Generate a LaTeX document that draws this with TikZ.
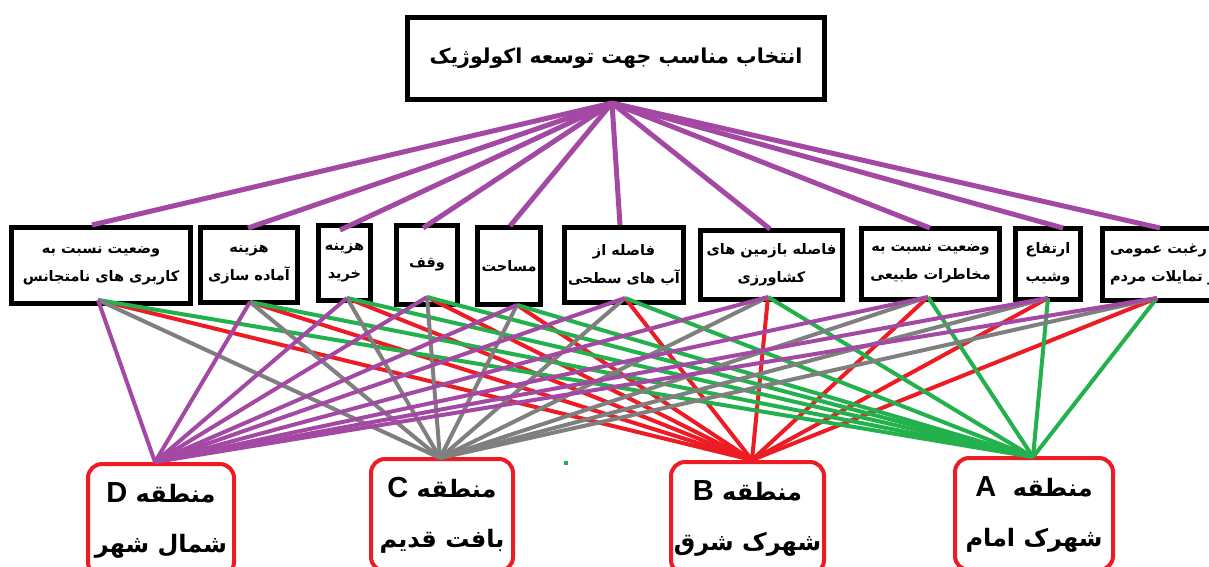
\documentclass[tikz,border=0pt]{standalone}
\usepackage{fontspec}
\TeXXeTstate=1
\newfontfamily\arabicfont[Script=Arabic]{DejaVu Sans}
\newfontfamily\latinsans{Liberation Sans}
\newcommand{\fa}[1]{{\arabicfont\bfseries\beginR #1\endR}}
\newcommand{\lt}[1]{{\latinsans\bfseries\fontsize{29}{50}\selectfont #1}}
\definecolor{ppurple}{RGB}{163,73,164}
\definecolor{pgray}{RGB}{127,127,127}
\definecolor{pred}{RGB}{237,28,36}
\definecolor{pgreen}{RGB}{34,177,76}
\tikzset{
  goalbox/.style={draw=black, line width=5pt, fill=white, inner sep=0pt, align=center,
    minimum width=417pt, minimum height=82pt, font=\fontsize{20.5}{26}\selectfont},
  crit/.style={draw=black, line width=5pt, fill=white, inner sep=0pt, align=center,
    font=\fontsize{14.5}{28}\selectfont},
  alt/.style={draw=pred, line width=4pt, rounded corners=14pt, fill=white, inner sep=0pt,
    align=center, font=\fontsize{24}{50}\selectfont},
  toplink/.style={draw=ppurple, line width=5pt},
  toD/.style={draw=ppurple, line width=4pt},
  toC/.style={draw=pgray, line width=4pt},
  toB/.style={draw=pred, line width=4pt},
  toA/.style={draw=pgreen, line width=4pt},
}
\begin{document}
\begin{tikzpicture}[x=1pt,y=-1pt]
\useasboundingbox (0,0) rectangle (1209,566);
\clip (0,0) rectangle (1209,566);
\fill[white] (0,0) rectangle (1209,566);

% goal
\node[goalbox] (goal) at (616,58.5) {\fa{انتخاب مناسب جهت توسعه اکولوژیک}};

% criteria
\node[crit, minimum width=179pt, minimum height=76pt] (c1) at (101,265.5)
  {\fa{وضعیت نسبت به}\\\fa{کاربری های نامتجانس}};
\node[crit, minimum width=97pt, minimum height=75pt] (c2) at (249,265)
  {\fa{هزینه}\\\fa{آماده سازی}};
\node[crit, minimum width=52pt, minimum height=75pt] (c3) at (344.5,263)
  {\fa{هزینه}\\\fa{خرید}};
\node[crit, minimum width=61pt, minimum height=79pt] (c4) at (427,265)
  {\fa{وقف}};
\node[crit, minimum width=63pt, minimum height=77pt] (c5) at (509,266)
  {\fa{مساحت}};
\node[crit, minimum width=119pt, minimum height=75pt] (c6) at (624,265)
  {\fa{فاصله از}\\\fa{آب های سطحی}};
\node[crit, minimum width=142pt, minimum height=69pt] (c7) at (771.5,265)
  {\fa{فاصله بازمین های}\\\fa{کشاورزی}};
\node[crit, minimum width=138pt, minimum height=71pt] (c8) at (930.5,264)
  {\fa{وضعیت نسبت به}\\\fa{مخاطرات طبیعی}};
\node[crit, minimum width=65pt, minimum height=71pt] (c9) at (1048,264)
  {\fa{ارتفاع}\\\fa{وشیب}};
\node[crit, minimum height=72pt, anchor=west, inner xsep=8pt, align=left] (c10) at (1099.5,264.5)
  {\fa{رغبت عمومی}\\\fa{و تمایلات مردم}};

% alternatives
\node[alt, minimum width=146pt, minimum height=112pt, anchor=north] (altD) at (161,462)
  {\fa{منطقه \lt{D}}\\\fa{شمال شهر}};
\node[alt, minimum width=142pt, minimum height=112pt, anchor=north] (altC) at (442,457)
  {\fa{منطقه \lt{C}}\\\fa{بافت قدیم}};
\node[alt, minimum width=153pt, minimum height=112pt, anchor=north] (altB) at (747.5,460)
  {\fa{منطقه \lt{B}}\\\fa{شهرک شرق}};
\node[alt, minimum width=158pt, minimum height=112pt, anchor=north] (altA) at (1034,456)
  {\fa{منطقه \ \lt{A}}\\\fa{شهرک امام}};

% ports
\coordinate (apex) at (612,103);
\coordinate (c1t) at (92,225);   \coordinate (c1b) at (98,300);
\coordinate (c2t) at (248,228);  \coordinate (c2b) at (250,302);
\coordinate (c3t) at (340,230);  \coordinate (c3b) at (347,298);
\coordinate (c4t) at (423,228);  \coordinate (c4b) at (427,297);
\coordinate (c5t) at (510,226);  \coordinate (c5b) at (517,305);
\coordinate (c6t) at (620,225);  \coordinate (c6b) at (625,298);
\coordinate (c7t) at (770,229);  \coordinate (c7b) at (768,297);
\coordinate (c8t) at (930,228);  \coordinate (c8b) at (928,297);
\coordinate (c9t) at (1063,228); \coordinate (c9b) at (1048,298);
\coordinate (c10t) at (1160,228);\coordinate (c10b) at (1157,298);
\coordinate (pD) at (155,462);
\coordinate (pC) at (440,458);
\coordinate (pB) at (752,460);
\coordinate (pA) at (1033,457);

% links
\foreach \i in {1,...,10} { \draw[toplink] (apex) -- (c\i t); }
\foreach \i in {1,...,10} { \draw[toB] (c\i b) -- (pB); }
\foreach \i in {1,...,10} { \draw[toA] (c\i b) -- (pA); }
\foreach \i in {1,...,10} { \draw[toC] (c\i b) -- (pC); }
\foreach \i in {1,...,10} { \draw[toD] (c\i b) -- (pD); }

% stray dot
\fill[pgreen] (564,461) rectangle (568,465);
\end{tikzpicture}
\end{document}
